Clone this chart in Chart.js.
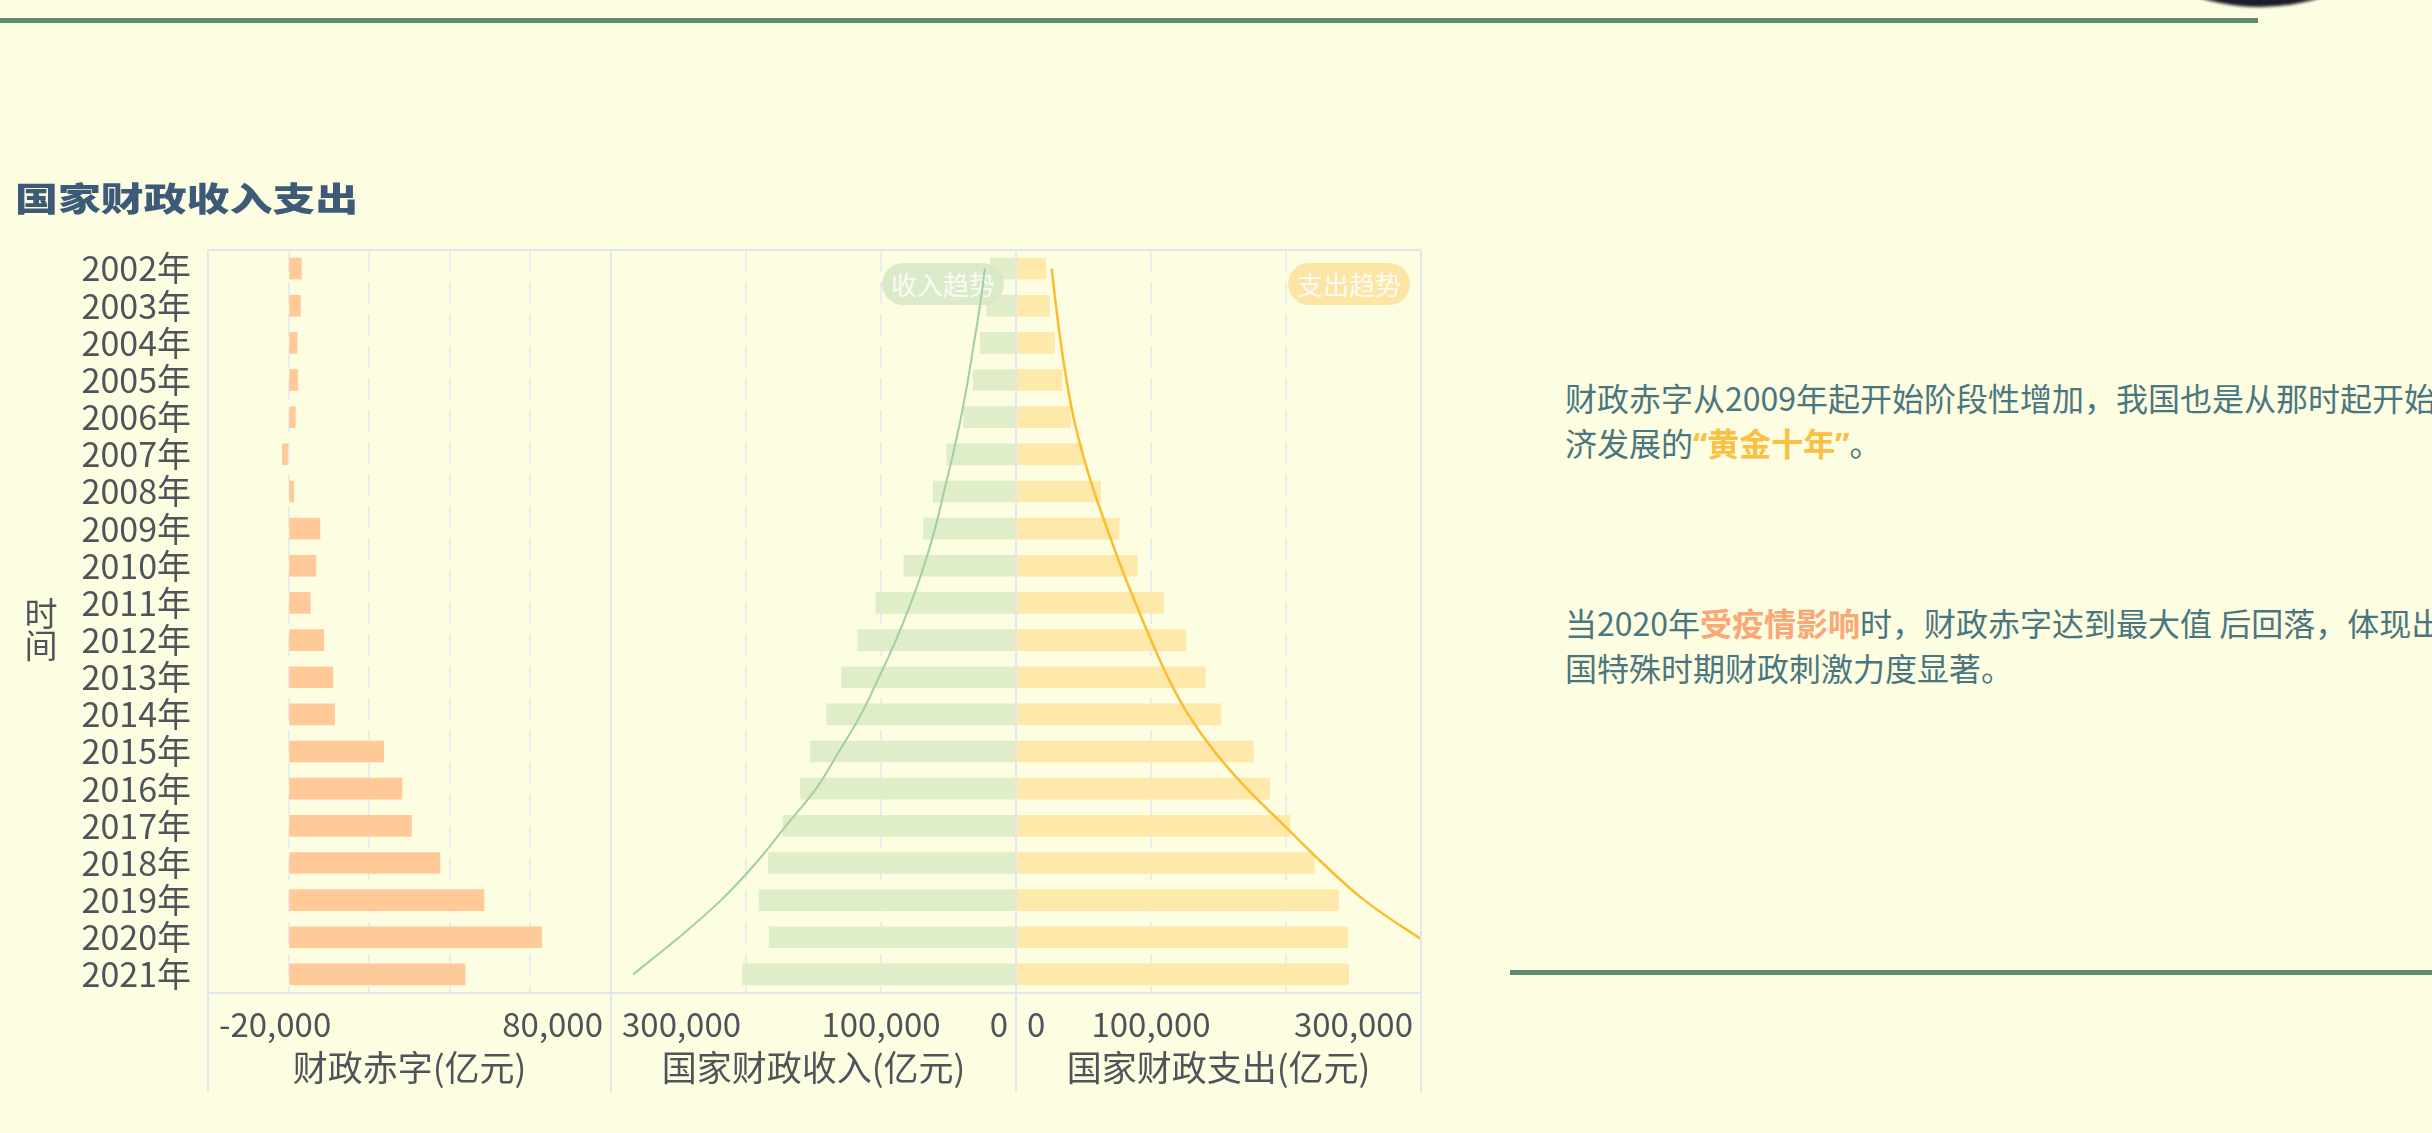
<!DOCTYPE html>
<html lang="zh-CN">
<head>
<meta charset="utf-8">
<title>国家财政收入支出</title>
<script src="https://cdn.jsdelivr.net/npm/chart.js@4.4.1/dist/chart.umd.min.js"></script>
<style>
  html, body { margin: 0; padding: 0; }
  body {
    width: 2432px; height: 1133px; overflow: hidden; position: relative;
    background: #fdfde1;
    font-family: "Noto Sans CJK SC", "Noto Sans", sans-serif;
  }
  .rule { position: absolute; height: 5px; background: #5f8a73; }
  .rule.top { left: 0; top: 18px; width: 2258px; }
  .rule.side { left: 1510px; top: 970px; width: 922px; }
  .disc {
    position: absolute; left: 2056px; top: -401px; width: 408px; height: 408px;
    border-radius: 50%; background: #1c1c2a; filter: blur(1.5px);
  }
  .heading {
    position: absolute; left: 15px; top: 175px; margin: 0;
    font-size: 33px; line-height: 44px; font-weight: 900; color: #3d5a78;
    white-space: nowrap; transform: scaleX(1.3); transform-origin: 0 50%;
  }
  canvas { position: absolute; }
  .note {
    position: absolute; left: 1565px; margin: 0;
    font-size: 32px; line-height: 45px; color: #4a777f; white-space: nowrap;
  }
  .note b { font-weight: 700; }
  .gold { color: #fbbf42; }
  .salmon { color: #fba876; }
  .q { font-family: "Noto Sans", "DejaVu Sans", sans-serif; }
</style>
</head>
<body>
<div class="rule top"></div>
<div class="disc"></div>
<h2 class="heading">国家财政收入支出</h2>

<canvas id="deficitChart"></canvas>
<canvas id="revenueChart"></canvas>
<canvas id="spendChart"></canvas>

<p class="note" style="top:375px">财政赤字从2009年起开始阶段性增加，我国也是从那时起开始经<br>济发展的<b class="gold"><span class="q">“</span>黄金十年<span class="q">”</span></b>。</p>
<p class="note" style="top:600px">当2020年<b class="salmon">受疫情影响</b>时，财政赤字达到最大值 后回落，体现出我<br>国特殊时期财政刺激力度显著。</p>
<div class="rule side"></div>

<script>
// ---- data (亿元) ----
const years = ['2002年', '2003年', '2004年', '2005年', '2006年', '2007年', '2008年', '2009年', '2010年', '2011年',
               '2012年', '2013年', '2014年', '2015年', '2016年', '2017年', '2018年', '2019年', '2020年', '2021年'];

const revenue = [18903.64, 21715.25, 26396.47, 31649.29, 38760.20, 51321.78, 61330.35, 68518.30, 83101.51, 103874.43,
                 117253.52, 129209.64, 140370.03, 152269.23, 159604.97, 172592.77, 183359.84, 190390.08, 182913.88, 202538.88];

const expenditure = [22053.15, 24649.95, 28486.89, 33930.28, 40422.73, 49781.35, 62592.66, 76299.93, 89874.16, 109247.79,
                     125952.97, 140212.10, 151785.56, 175877.77, 187755.21, 203085.49, 220904.13, 238858.37, 245679.03, 246321.50];

const deficit = [3149.51, 2934.70, 2090.42, 2280.99, 1662.53, -1540.43, 1262.31, 7781.63, 6772.65, 5373.36,
                 8699.45, 11002.46, 11415.53, 23608.54, 28150.24, 30492.72, 37544.29, 48468.29, 62765.15, 43782.62];

const revenueTrend = [23000, 26700, 31100, 35600, 40700, 46700, 53300, 60000, 68100, 77800,
                      88900, 101500, 114800, 131100, 148100, 170400, 192600, 218500, 249600, 283700];

const expenditureTrend = [26400, 29600, 33200, 37400, 42600, 49500, 57800, 67500, 77500, 88500,
                          100000, 112500, 127500, 147000, 171000, 199000, 227000, 258000, 298000, 342000];

const deficitTicks = [-20000, 80000];
const budgetTicks = [0, 100000, 300000];

// ---- look ----
const FONT = '"Noto Sans CJK SC", "Noto Sans", sans-serif';
const INK = '#4f545b';
const FRAME = '#e2e6ee';
const GRID = '#e9ecf0';
const TOP = 230, HEIGHT = 880, FOOT = 1093;

Chart.defaults.font.family = FONT;
Chart.defaults.color = INK;

function mount(id, left, width) {
  const c = document.getElementById(id);
  c.width = width; c.height = HEIGHT;
  c.style.left = left + 'px'; c.style.top = TOP + 'px';
  c.style.width = width + 'px'; c.style.height = HEIGHT + 'px';
  return c;
}

// light frame round each panel; the side rules run on below the axis titles
const framePlugin = {
  id: 'frame',
  afterDraw(chart) {
    const { ctx, chartArea: a } = chart;
    const foot = FOOT - TOP;
    ctx.save();
    ctx.strokeStyle = FRAME;
    ctx.lineWidth = 2;
    ctx.beginPath();
    ctx.moveTo(a.left, a.top); ctx.lineTo(a.right, a.top);
    ctx.moveTo(a.left, a.bottom); ctx.lineTo(a.right, a.bottom);
    ctx.moveTo(a.left, a.top); ctx.lineTo(a.left, foot);
    ctx.moveTo(a.right, a.top); ctx.lineTo(a.right, foot);
    ctx.stroke();
    ctx.restore();
  }
};

// value labels sitting on a panel edge are pulled inside it (start edge left-aligned, end edge right-aligned)
const edgeLabelPlugin = {
  id: 'edgeLabels',
  beforeDraw(chart) {
    const scale = chart.scales.x;
    const a = chart.chartArea;
    scale.getLabelItems(a).forEach(item => {
      if (!item.label) return;
      const o = item.options || item;
      const x = o.translation ? o.translation[0] : o.x;
      let nx = x;
      if (Math.abs(x - a.left) < 1.5) { o.textAlign = 'left'; nx = x + 11; }
      else if (Math.abs(x - a.right) < 1.5) { o.textAlign = 'right'; nx = x - 8; }
      if (o.translation) o.translation = [nx, o.translation[1]]; else o.x = nx;
    });
  }
};

// rounded name tag for the trend line, drawn between the bars and the line
const pillPlugin = {
  id: 'pill',
  afterDatasetDraw(chart, args, opts) {
    if (args.index !== 0 || !opts.text) return;
    const { ctx, chartArea: a } = chart;
    const w = 122, h = 42, r = h / 2;
    const x = a.right - opts.inset - w;
    const y = a.top + 13;
    ctx.save();
    ctx.fillStyle = opts.fill;
    ctx.beginPath();
    ctx.moveTo(x + r, y);
    ctx.lineTo(x + w - r, y);
    ctx.arc(x + w - r, y + r, r, -Math.PI / 2, Math.PI / 2);
    ctx.lineTo(x + r, y + h);
    ctx.arc(x + r, y + r, r, Math.PI / 2, Math.PI * 1.5);
    ctx.closePath();
    ctx.fill();
    ctx.fillStyle = '#fbfbf3';
    ctx.font = '26px ' + FONT;
    ctx.textAlign = 'center';
    ctx.textBaseline = 'middle';
    ctx.fillText(opts.text, x + w / 2, y + h / 2 + 1);
    ctx.restore();
  }
};

// stacked (vertical) name of the category axis
const axisNamePlugin = {
  id: 'axisName',
  afterDraw(chart, args, opts) {
    if (!opts.chars) return;
    const { ctx } = chart;
    ctx.save();
    ctx.fillStyle = INK;
    ctx.font = '33px ' + FONT;
    ctx.textAlign = 'center';
    ctx.textBaseline = 'middle';
    opts.chars.forEach((ch, i) => ctx.fillText(ch, opts.x, opts.y[i] - TOP));
    ctx.restore();
  }
};

function base(padLeft, padRight) {
  return {
    indexAxis: 'y',
    responsive: false,
    devicePixelRatio: 1,
    animation: false,
    events: [],
    layout: { padding: { left: padLeft, right: padRight, top: 20, bottom: 0 } }
  };
}

function valueAxis(min, max, step, shown, reverse, title) {
  return {
    type: 'linear', position: 'bottom', min, max, reverse,
    grid: { color: GRID, lineWidth: 2, drawTicks: false },
    border: { display: false, dash: [22, 10] },
    ticks: {
      stepSize: step, autoSkip: false, maxRotation: 0, align: 'center', padding: 12,
      font: { size: 33 }, color: INK,
      callback: value => shown.includes(value) ? value.toLocaleString('en-US') : ''
    },
    title: { display: true, text: title, color: INK, font: { size: 35 }, padding: { top: 0, bottom: 21 } },
    afterFit(scale) { scale.height = 117; scale.paddingLeft = 0; scale.paddingRight = 0; }
  };
}

function yearAxis(show) {
  return {
    type: 'category', display: show,
    grid: { display: false, drawTicks: false },
    border: { display: false },
    ticks: { autoSkip: false, padding: 17, font: { size: 34 }, color: INK },
    afterFit(scale) { if (show) scale.width = 208; scale.paddingTop = 0; scale.paddingBottom = 0; }
  };
}

const quiet = { legend: { display: false }, tooltip: { enabled: false } };

// 财政赤字
new Chart(mount('deficitChart', 0, 640), {
  type: 'bar',
  data: {
    labels: years,
    datasets: [{ label: '财政赤字', data: deficit, backgroundColor: '#ffca98', borderWidth: 0, barThickness: 21 }]
  },
  options: {
    ...base(0, 29),
    scales: { x: valueAxis(-20000, 80000, 20000, deficitTicks, false, '财政赤字(亿元)'), y: yearAxis(true) },
    plugins: { ...quiet, axisName: { chars: ['时', '间'], x: 41, y: [613, 645] } }
  },
  plugins: [framePlugin, edgeLabelPlugin, axisNamePlugin]
});

// 国家财政收入 (axis runs right to left)
new Chart(mount('revenueChart', 580, 470), {
  type: 'bar',
  data: {
    labels: years,
    datasets: [
      { label: '国家财政收入', data: revenue, backgroundColor: '#e0edc9', borderWidth: 0, barThickness: 21, order: 2 },
      { type: 'line', label: '收入趋势', data: revenueTrend, borderColor: '#a2cea6', borderWidth: 2,
        pointRadius: 0, tension: 0.4, fill: false, order: 1 }
    ]
  },
  options: {
    ...base(31, 34),
    scales: { x: valueAxis(0, 300000, 100000, budgetTicks, true, '国家财政收入(亿元)'), y: yearAxis(false) },
    plugins: { ...quiet, pill: { text: '收入趋势', fill: 'rgba(214,230,200,0.85)', inset: 12 } }
  },
  plugins: [framePlugin, edgeLabelPlugin, pillPlugin]
});

// 国家财政支出
new Chart(mount('spendChart', 990, 470), {
  type: 'bar',
  data: {
    labels: years,
    datasets: [
      { label: '国家财政支出', data: expenditure, backgroundColor: '#fee8aa', borderWidth: 0, barThickness: 21, order: 2 },
      { type: 'line', label: '支出趋势', data: expenditureTrend, borderColor: '#fbbd2f', borderWidth: 2.5,
        pointRadius: 0, tension: 0.4, fill: false, order: 1 }
    ]
  },
  options: {
    ...base(26, 39),
    scales: { x: valueAxis(0, 300000, 100000, budgetTicks, false, '国家财政支出(亿元)'), y: yearAxis(false) },
    plugins: { ...quiet, pill: { text: '支出趋势', fill: 'rgba(253,226,160,0.9)', inset: 11 } }
  },
  plugins: [framePlugin, edgeLabelPlugin, pillPlugin]
});
</script>
</body>
</html>
